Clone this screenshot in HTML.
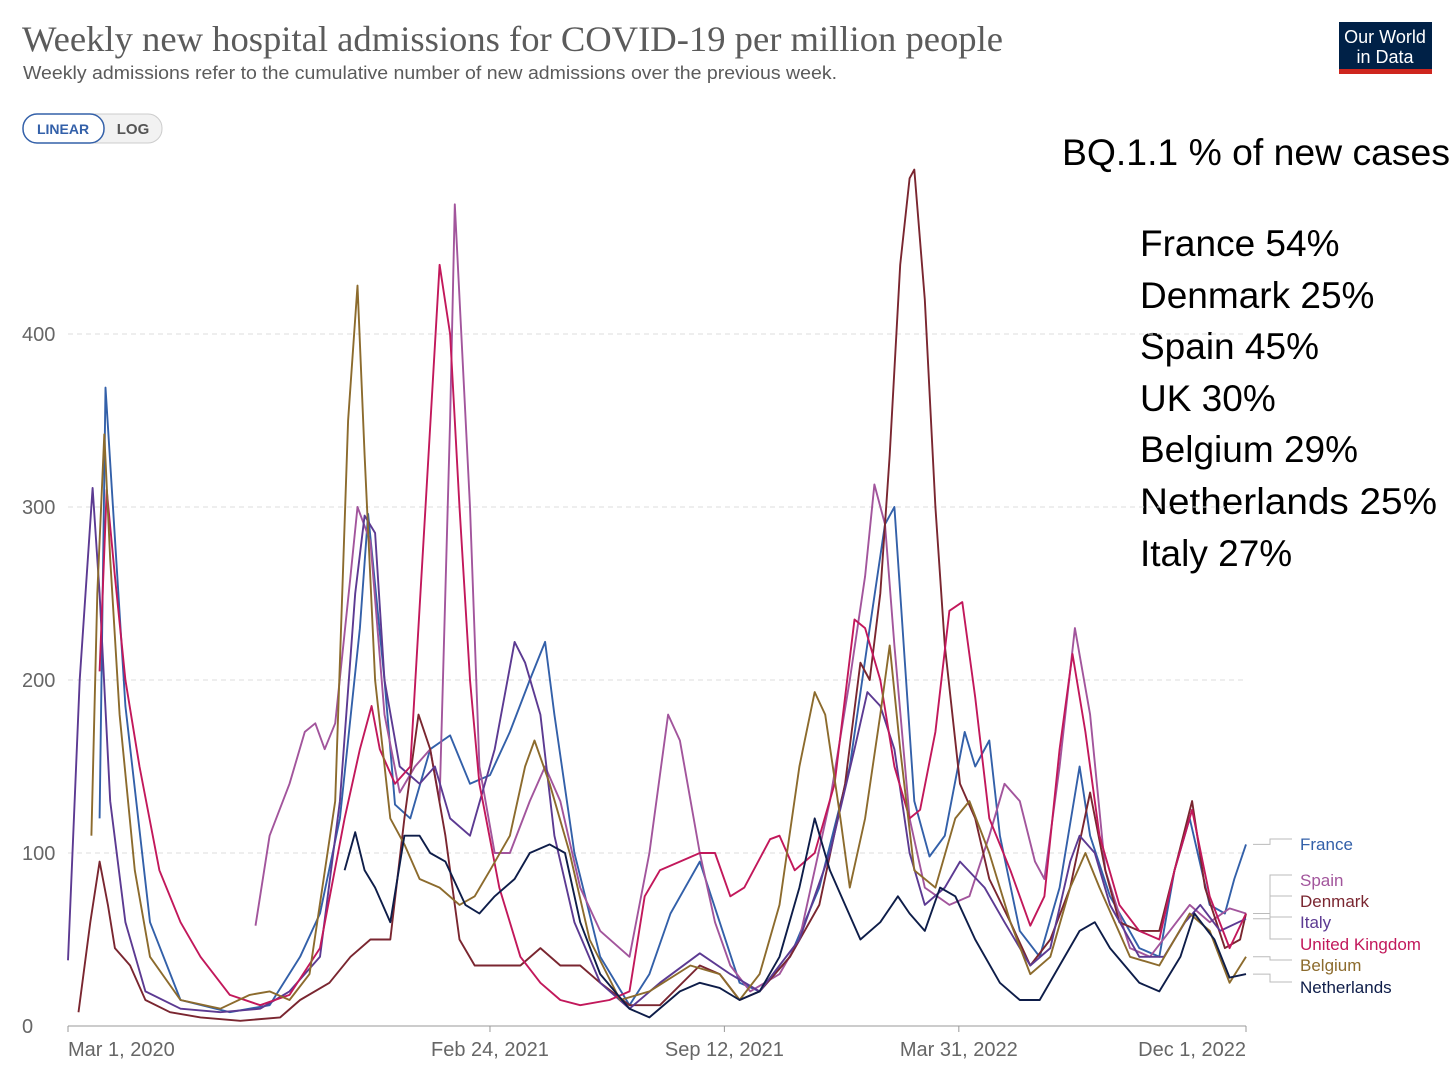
<!DOCTYPE html>
<html><head><meta charset="utf-8">
<style>
body{margin:0;background:#fff;width:1456px;height:1089px;overflow:hidden;font-family:"Liberation Sans",sans-serif;}
svg{position:absolute;left:0;top:0}
</style></head>
<body>
<svg id="chart" width="1456" height="1089">
  <text x="22" y="51" font-family="Liberation Serif,serif" font-size="36" fill="#5b5b5b" textLength="981" lengthAdjust="spacingAndGlyphs">Weekly new hospital admissions for COVID-19 per million people</text>
  <text x="23" y="79" font-size="18" fill="#5b5b5b" textLength="814" lengthAdjust="spacingAndGlyphs">Weekly admissions refer to the cumulative number of new admissions over the previous week.</text>
  <g>
    <rect x="23" y="114" width="139" height="29" rx="14" fill="#f2f2f2" stroke="#ccc"/>
    <rect x="23" y="114" width="81" height="29" rx="14" fill="#fff" stroke="#3360a9" stroke-width="1.5"/>
    <text x="63" y="134" font-size="14" font-weight="bold" fill="#3360a9" text-anchor="middle">LINEAR</text>
    <text x="133" y="134" font-size="15" font-weight="bold" fill="#555" text-anchor="middle">LOG</text>
  </g>
  <g>
    <rect x="1339" y="22" width="93" height="52" fill="#002147"/>
    <rect x="1339" y="69" width="93" height="5" fill="#ce261e"/>
    <text x="1385" y="43" font-size="18" fill="#fff" text-anchor="middle">Our World</text>
    <text x="1385" y="63" font-size="18" fill="#fff" text-anchor="middle">in Data</text>
  </g>
  <g font-size="37" fill="#000">
    <text x="1062" y="165" textLength="388" lengthAdjust="spacingAndGlyphs">BQ.1.1 % of new cases</text>
    <text x="1140" y="256">France 54%</text>
    <text x="1140" y="308">Denmark 25%</text>
    <text x="1140" y="359">Spain 45%</text>
    <text x="1140" y="411">UK 30%</text>
    <text x="1140" y="462">Belgium 29%</text>
    <text x="1140" y="514" textLength="297" lengthAdjust="spacingAndGlyphs">Netherlands 25%</text>
    <text x="1140" y="566">Italy 27%</text>
  </g>
  <g id="grid"></g>
  <g id="series"></g>
  <g id="legend"></g>
</svg>
<script>
const yTicks=[0,100,200,300,400];
const xTickDays=[0,360,560,760,1005];
const xTickLabels=["Mar 1, 2020","Feb 24, 2021","Sep 12, 2021","Mar 31, 2022","Dec 1, 2022"];
const seriesNames=["France","Spain","Denmark","Italy","United Kingdom","Belgium","Netherlands"];
const seriesColors=["#3360a9","#a2559c","#7a2630","#5c3a92","#c2185b","#8c6b2d","#0e1d49"];
const franceDays=[27,32,49,70,96,138,172,198,215,232,249,256,270,279,292,309,326,343,360,377,394,407,415,432,454,479,496,514,539,556,573,590,616,641,667,684,697,705,714,722,735,748,765,774,786,795,812,829,846,863,872,889,914,931,944,957,974,987,995,1005];
const franceVals=[120,369,185,60,15,8,12,40,65,120,230,296,200,128,120,160,168,140,145,170,200,222,180,100,40,12,30,65,95,60,25,20,40,80,150,230,290,300,210,130,98,110,170,150,165,110,55,40,80,150,110,75,45,40,90,120,70,65,85,105];
const spainDays=[160,172,189,202,211,219,228,241,247,258,270,283,296,309,317,326,330,343,351,364,377,394,407,420,437,454,479,496,512,522,539,552,565,582,607,624,650,667,680,688,697,705,718,731,752,769,786,799,812,825,833,846,859,872,885,906,923,940,957,974,991,1005];
const spainVals=[58,110,140,170,175,160,175,260,300,280,180,135,150,160,130,350,475,300,150,100,100,130,150,130,80,55,40,100,180,165,100,60,35,20,30,50,130,200,260,313,290,220,120,80,70,75,110,140,130,95,85,150,230,180,90,45,40,55,70,60,68,65];
const denmarkDays=[9,19,27,34,40,53,66,87,113,147,181,198,223,241,258,275,287,299,309,322,334,347,368,386,403,420,437,454,479,505,539,556,573,590,616,641,663,676,684,693,701,710,718,722,731,740,748,761,774,786,804,821,838,855,872,885,897,914,931,944,959,970,987,1000,1005];
const denmarkVals=[8,60,95,70,45,35,15,8,5,3,5,15,25,40,50,50,120,180,160,110,50,35,35,35,45,35,35,25,12,12,35,30,15,20,40,70,140,210,200,250,330,440,490,495,420,300,220,140,120,85,60,35,50,80,135,90,60,55,55,90,130,80,45,50,65];
const italyDays=[0,10,21,27,36,49,66,96,130,164,189,215,232,245,253,262,270,283,300,313,326,343,364,381,390,403,415,432,454,479,505,539,565,590,624,650,671,682,693,705,718,731,748,761,782,799,821,838,855,863,876,889,914,935,953,966,983,1005];
const italyVals=[38,200,311,250,130,60,20,10,8,10,20,40,130,250,295,285,200,150,140,150,120,110,160,222,210,180,110,60,25,10,25,42,30,20,50,100,160,193,185,160,100,70,80,95,80,60,35,45,95,110,100,70,40,40,60,70,55,62];
const ukDays=[27,33,40,49,61,78,96,113,138,164,189,215,236,249,259,266,279,292,305,317,326,334,343,351,368,386,403,420,437,462,479,492,505,522,539,552,565,577,599,607,620,637,654,671,680,693,705,718,727,740,752,763,774,786,804,821,833,846,857,868,880,897,914,931,944,959,974,991,1005];
const ukVals=[205,310,260,200,150,90,60,40,18,12,18,45,120,160,185,160,140,150,300,440,400,300,200,140,80,40,25,15,12,15,20,75,90,95,100,100,75,80,108,110,90,100,140,235,230,200,150,120,125,170,240,245,190,120,90,58,75,160,215,170,110,70,55,50,90,125,75,45,65];
const belgiumDays=[20,25,31,36,44,57,70,96,130,155,172,189,206,228,239,247,253,262,275,287,300,317,334,347,360,377,390,398,411,428,445,471,496,531,556,573,590,607,624,637,646,659,667,680,693,701,710,722,740,757,769,786,804,821,838,855,868,880,906,931,957,974,991,1005];
const belgiumVals=[110,250,342,270,180,90,40,15,10,18,20,15,30,130,350,428,330,200,120,105,85,80,70,75,90,110,150,165,140,100,50,15,20,35,30,15,30,70,150,193,180,120,80,120,180,220,160,90,80,120,130,100,60,30,40,80,100,80,40,35,65,55,25,40];
const nlDays=[236,245,253,262,275,287,300,309,322,339,351,364,381,394,411,424,437,454,479,496,522,539,556,573,590,607,624,637,650,663,676,693,708,718,731,744,757,774,795,812,829,846,863,876,889,914,931,949,961,978,991,1005];
const nlVals=[90,112,90,80,60,110,110,100,95,70,65,75,85,100,105,100,60,30,10,5,20,25,22,15,20,40,80,120,90,70,50,60,75,65,55,80,75,50,25,15,15,35,55,60,45,25,20,40,65,50,28,30];
const allDays=[franceDays,spainDays,denmarkDays,italyDays,ukDays,belgiumDays,nlDays];
const allVals=[franceVals,spainVals,denmarkVals,italyVals,ukVals,belgiumVals,nlVals];
const legendY=[844,880,901,922,944,965,987];

const NS="http://www.w3.org/2000/svg";
const x=d=>68+d*(1178/1005);
const y=v=>1026-v*1.73;
function mk(tag,attrs,parent){const e=document.createElementNS(NS,tag);for(const k in attrs)e.setAttribute(k,attrs[k]);parent.appendChild(e);return e;}
const grid=document.getElementById('grid');
yTicks.forEach(t=>{
  if(t>0){const l=mk('line',{x1:68,x2:1246,y1:y(t),y2:y(t),stroke:'#ddd','stroke-dasharray':'5,4'},grid);
  
  }
  const tx=mk('text',{x:22,y:y(t)+7,'font-size':20,fill:'#666'},grid);tx.textContent=t;
  
  
});
const ax=mk('line',{x1:68,x2:1246,y1:1026,y2:1026,stroke:'#999'},grid);


xTickDays.forEach((d,i)=>{
  mk('line',{x1:x(d),x2:x(d),y1:1026,y2:1032,stroke:'#999'},grid);
  const anchor=i==0?'start':(i==xTickDays.length-1?'end':'middle');
  const tx=mk('text',{x:x(d),y:1056,'font-size':20,fill:'#666','text-anchor':anchor},grid);tx.textContent=xTickLabels[i];
  
  
});
const sg=document.getElementById('series'), lg=document.getElementById('legend');
seriesNames.forEach((n,i)=>{
  const ds=allDays[i],vs=allVals[i];
  const p=mk('path',{d:ds.map((d,j)=>(j?'L':'M')+x(d).toFixed(1)+','+y(vs[j]).toFixed(1)).join(''),fill:'none',stroke:seriesColors[i],'stroke-width':1.9,'stroke-linejoin':'round'},sg);
  
  
  const ey=y(vs[vs.length-1]), ly=legendY[i]-5;
  mk('path',{d:`M1253,${ey}H1270V${ly}H1292`,fill:'none',stroke:'#bbb'},lg);
  const t=mk('text',{x:1300,y:legendY[i]+6,'font-size':17,fill:seriesColors[i]},lg);t.textContent=n;
  
  
});
</script>
</body></html>
